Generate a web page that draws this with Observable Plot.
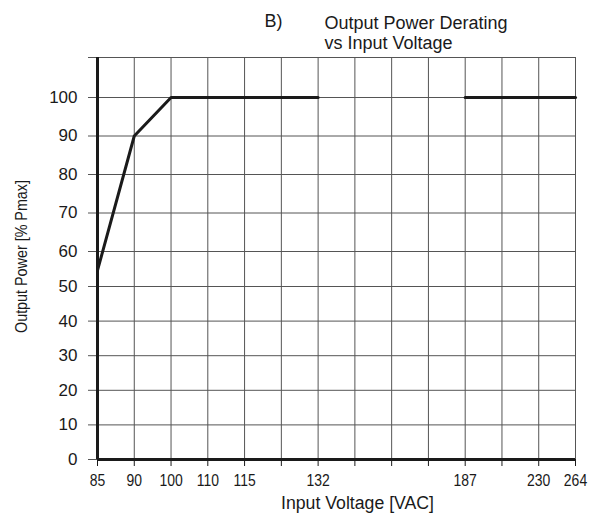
<!DOCTYPE html>
<html><head><meta charset="utf-8">
<script src="https://cdn.jsdelivr.net/npm/d3@7"></script>
<script src="https://cdn.jsdelivr.net/npm/@observablehq/plot@0.6"></script>
<style>
body{margin:0;background:#fff}
#chart{position:relative;width:594px;height:513px}
</style>
</head><body><div id="chart"></div>
<script>
// x slots are equally spaced on the original chart; unlabeled slots are blank grid columns
const voltageSlots = ["85","90","100","110","115","gap1","132","gap2","gap3","gap4","187","gap5","230","264"];
const yTicks = [0,10,20,30,40,50,60,70,80,90,100];
const yMax = 110.6;
// series: output power derating
const segA_volt = ["85","90","100","132"];
const segA_power = [54.6, 90, 100, 100];
const segB_volt = ["187","264"];
const segB_power = [100, 100];
const titleLetter = "B)";
const titleText = "Output Power Derating\nvs Input Voltage";
const xLabel = "Input Voltage [VAC]";
const yLabel = "Output Power [% Pmax]";

const segA = segA_volt.map((v,i)=>({volt:v, power:segA_power[i]}));
const segB = segB_volt.map((v,i)=>({volt:v, power:segB_power[i]}));
const fmtX = d => /^\d+$/.test(d) ? d : "";
const gridColor = "#555";
const ink = "#1a1a1a";
const sans = "'Liberation Sans', Arial, sans-serif";

const chart = Plot.plot({
  width: 594,
  height: 513,
  marginLeft: 97,
  marginRight: 19,
  marginTop: 57,
  marginBottom: 54,
  style: {fontFamily: sans, color: ink, background: "#fff"},
  x: {type: "point", domain: voltageSlots, padding: 0, round: false, axis: null},
  y: {type: "linear", domain: [0, 50, 60, 100, yMax], range: [459, 286, 251, 97, 57], axis: null},
  marks: [
    Plot.ruleX(voltageSlots, {x: d => d, y1: 0, y2: yMax, stroke: gridColor, strokeWidth: 1}),
    Plot.ruleY(yTicks, {y: d => d, stroke: gridColor, strokeWidth: 1}),
    Plot.frame({anchor: "top", stroke: gridColor, strokeWidth: 1}),
    Plot.axisY({ticks: [...yTicks, yMax], tickSize: 9, tickPadding: 11,
      tickFormat: d => d === yMax ? "" : d, fontSize: 17, fontFamily: sans,
      stroke: gridColor, label: null}),
    Plot.axisX({ticks: voltageSlots, tickSize: 7, tickPadding: 7, tickFormat: fmtX,
      fontSize: 17, fontFamily: sans, stroke: ink, label: null}),
    Plot.ruleX([voltageSlots[0]], {x: d => d, y1: 0, y2: yMax, stroke: ink, strokeWidth: 3}),
    Plot.ruleY([0], {y: d => d, stroke: ink, strokeWidth: 3}),
    Plot.line(segA, {x: "volt", y: "power", stroke: ink, strokeWidth: 3, strokeLinejoin: "miter"}),
    Plot.line(segB, {x: "volt", y: "power", stroke: ink, strokeWidth: 3}),
    Plot.text([xLabel], {frameAnchor: "bottom", text: d => d, dx: 21, dy: 44, lineAnchor: "middle",
      textAnchor: "middle", fontSize: 18, fontFamily: sans, fill: ink}),
    Plot.text([yLabel], {frameAnchor: "left", text: d => d, rotate: -90, dx: -76, dy: -2, lineAnchor: "middle",
      textAnchor: "middle", fontSize: 16, fontFamily: sans, fill: ink}),
    Plot.text([titleLetter], {frameAnchor: "top-left", text: d => d, dx: 167, dy: -43, lineAnchor: "top",
      textAnchor: "start", fontSize: 18, fontFamily: sans, fill: ink}),
    Plot.text([titleText], {frameAnchor: "top-left", text: d => d, dx: 227, dy: -43, lineAnchor: "top",
      textAnchor: "start", lineHeight: 1.11, fontSize: 18, fontFamily: sans, fill: ink})
  ]
});
document.getElementById("chart").appendChild(chart);
// the original uses a condensed face for the x tick labels and the axis titles
d3.select(chart).selectAll('g[aria-label="x-axis tick label"] text').each(function() {
  const w = this.getComputedTextLength();
  if (w > 0) {
    this.setAttribute("textLength", (w * 0.82).toFixed(1));
    this.setAttribute("lengthAdjust", "spacingAndGlyphs");
  }
});
d3.select(chart).selectAll('g[aria-label="text"] text').each(function() {
  const t = this.textContent;
  if (t === xLabel || t === yLabel) {
    this.setAttribute("lengthAdjust", "spacingAndGlyphs");
    this.setAttribute("textLength", "153");
  }
});
</script>
</body></html>
